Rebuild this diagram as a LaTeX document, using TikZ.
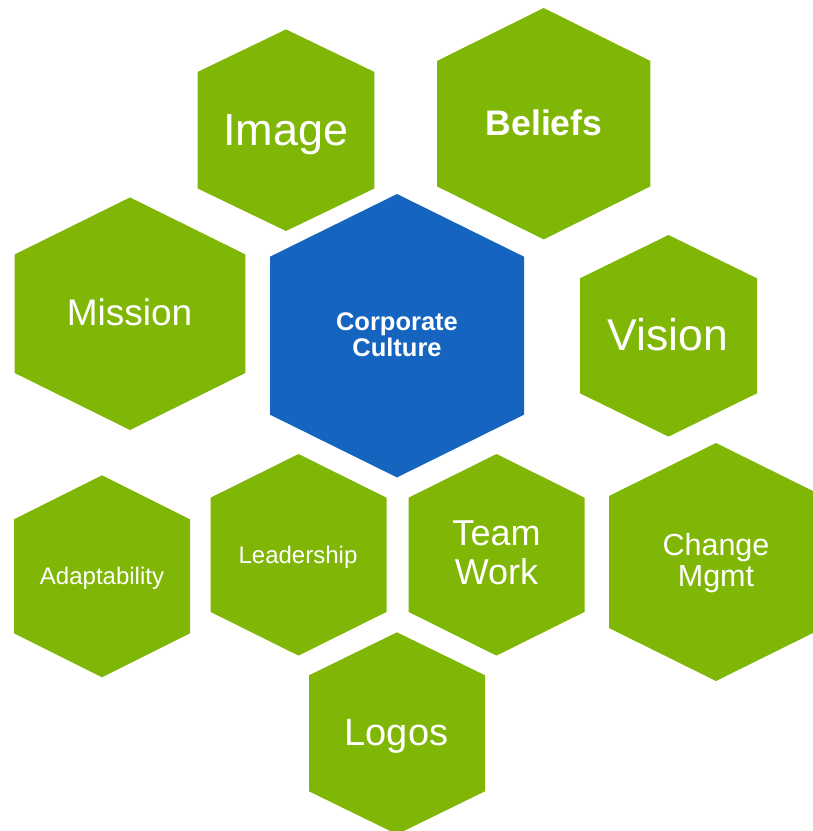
\documentclass[tikz,border=0pt]{standalone}
\usepackage{fontspec}
\setmainfont{Liberation Sans}
\definecolor{cellgreen}{RGB}{128,183,6}
\definecolor{hubblue}{RGB}{21,101,192}
% centre x, centre y, half width, half height, shoulder drop, colour
\newcommand{\hexcell}[6]{%
  \fill[#6] (#1,#2-#4) -- (#1+#3,#2-#4+#5) -- (#1+#3,#2+#4-#5) -- (#1,#2+#4)
    -- (#1-#3,#2+#4-#5) -- (#1-#3,#2-#4+#5) -- cycle;}
\tikzset{
  celltext/.style={text=white, inner sep=0pt, align=center},
  fsize/.style={font=\fontsize{#1}{1.05*#1}\selectfont}
}
\begin{document}
\begin{tikzpicture}[x=1pt,y=-1pt]
  \useasboundingbox (0,0) rectangle (813,831);
  \clip (0,0) rectangle (813,831);

  % green cells
  \foreach \cx/\cy/\hw/\hh/\sh in {286/130.2/88.3/100.8/42.5, 543.7/123.7/106.7/115.7/53,
      130/313.7/115.3/116.3/57, 668.5/335.8/88.5/100.8/43.3, 102/576.3/88/101/44,
      298.5/554.8/88/100.8/43.7, 496.5/554.8/88/100.8/43.7, 716/562/107/119/53,
      397/733.3/88/101/43}{
    \hexcell{\cx}{\cy}{\hw}{\hh}{\sh}{cellgreen}
  }
  % centre cell
  \hexcell{397}{335.7}{127}{141.7}{62.7}{hubblue}

  \node[celltext, anchor=base, font=\fontsize{45}{48}\selectfont] (image) at (286,145) {Image};
  \node[celltext, anchor=base, font=\fontsize{35.5}{38}\selectfont\bfseries] (beliefs) at (544,135) {Beliefs};
  \node[celltext, anchor=base, font=\fontsize{37}{40}\selectfont] (mission) at (129.5,325) {Mission};
  \node[celltext, font=\fontsize{25.5}{26}\selectfont\bfseries] (culture) at (397,334.4) {Corporate\\Culture};
  \node[celltext, anchor=base, font=\fontsize{44.5}{48}\selectfont] (vision) at (668,350) {Vision};
  \node[celltext, anchor=base, font=\fontsize{24}{26}\selectfont] (adapt) at (102,584) {Adaptability};
  \node[celltext, anchor=base, font=\fontsize{24}{26}\selectfont] (leader) at (298,563.3) {Leadership};
  \node[celltext, font=\fontsize{36}{38.5}\selectfont] (teamwork) at (496.5,552.9) {Team\\Work};
  \node[celltext, font=\fontsize{30.5}{31}\selectfont] (change) at (716,563) {Change\\Mgmt};
  \node[celltext, anchor=base, font=\fontsize{38}{40}\selectfont] (logos) at (396.5,745.7) {Logos};
\end{tikzpicture}
\end{document}
